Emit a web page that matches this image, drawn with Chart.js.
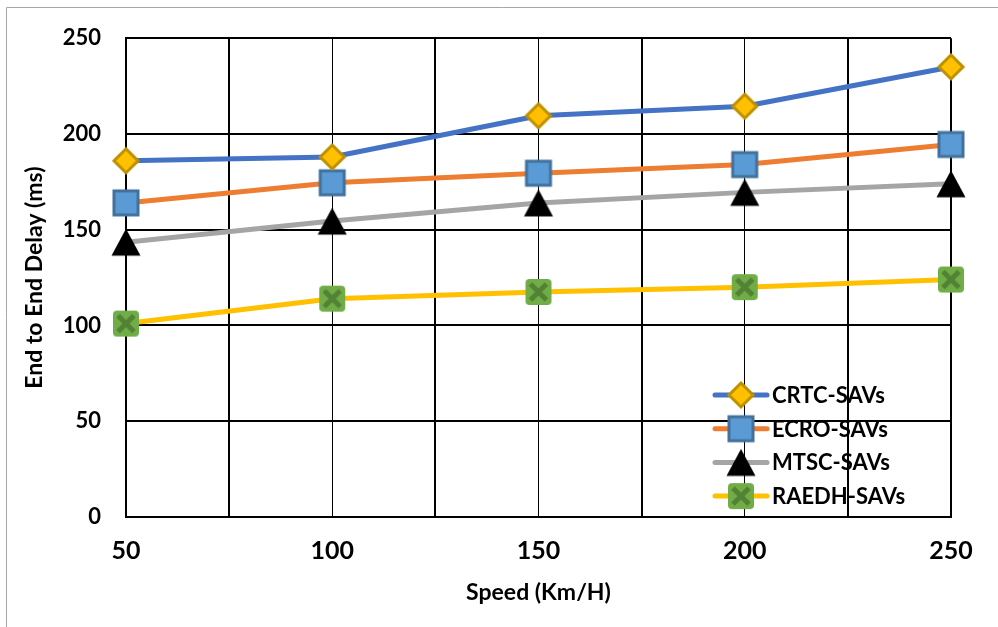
<!DOCTYPE html>
<html>
<head>
<meta charset="utf-8">
<script src="https://cdn.jsdelivr.net/npm/chart.js@4"></script>
<style>
  html, body { margin: 0; padding: 0; background: #fff; }
  #wrap { width: 998px; height: 627px; position: relative; }
</style>
</head>
<body>
<div id="wrap"><canvas id="c" width="998" height="627"></canvas></div>
<script>
// Speed (Km/H) on the x axis
const speeds = [50, 100, 150, 200, 250];
// End to end delay (ms) per scheme
const crtc  = [186, 188, 209.5, 214.5, 235];
const ecro  = [164, 174.5, 179.5, 184, 194.5];
const mtsc  = [143.5, 154.5, 164, 169.5, 174];
const raedh = [101, 114, 117.5, 120, 124];
const seriesNames = ['CRTC-SAVs', 'ECRO-SAVs', 'MTSC-SAVs', 'RAEDH-SAVs'];
const xTickStep = 25;
const yTickStep = 50;

const FONT = 'Lato, "Open Sans", sans-serif';

// Marker images
function markerCanvas(draw) {
  const c = document.createElement('canvas');
  c.width = 32; c.height = 32;
  const g = c.getContext('2d');
  draw(g);
  return c;
}
const diamond = markerCanvas(g => {
  g.beginPath();
  g.moveTo(16, 4); g.lineTo(28, 16); g.lineTo(16, 28); g.lineTo(4, 16); g.closePath();
  g.fillStyle = '#FFC000'; g.fill();
  g.lineWidth = 3; g.strokeStyle = '#BF9000'; g.lineJoin = 'miter'; g.stroke();
});
const square = markerCanvas(g => {
  g.fillStyle = '#5B9BD5'; g.fillRect(4, 4, 24, 24);
  g.lineWidth = 3; g.strokeStyle = '#41719C'; g.strokeRect(4, 4, 24, 24);
});
const triangle = markerCanvas(g => {
  g.beginPath();
  g.moveTo(16, 2.5); g.lineTo(30.5, 29.5); g.lineTo(1.5, 29.5); g.closePath();
  g.fillStyle = '#000'; g.fill();
});
const xbox = markerCanvas(g => {
  g.beginPath();
  if (g.roundRect) g.roundRect(3, 3, 26, 26, 4); else g.rect(3, 3, 26, 26);
  g.fillStyle = '#70AD47'; g.fill();
  g.strokeStyle = '#548235'; g.lineWidth = 5; g.lineCap = 'butt';
  g.beginPath();
  g.moveTo(8, 8); g.lineTo(24, 24);
  g.moveTo(24, 8); g.lineTo(8, 24);
  g.stroke();
});

const seriesValues = [crtc, ecro, mtsc, raedh];
const lineColors = ['#4472C4', '#ED7D31', '#A5A5A5', '#FFC000'];
const markers = [diamond, square, triangle, xbox];

const datasets = seriesValues.map((vals, i) => ({
  label: seriesNames[i],
  data: speeds.map((s, k) => ({ x: s, y: vals[k] })),
  borderColor: lineColors[i],
  backgroundColor: lineColors[i],
  borderWidth: 5,
  borderJoinStyle: 'round',
  tension: 0,
  pointStyle: markers[i],
  pointRadius: 13,
  pointHoverRadius: 13,
  clip: false
}));

// Outer frame (top and left edges)
const framePlugin = {
  id: 'frame',
  beforeDraw(chart) {
    const { ctx, width, height } = chart;
    ctx.save();
    ctx.fillStyle = '#fff';
    ctx.fillRect(0, 0, width, height);
    ctx.strokeStyle = '#a6a6a6';
    ctx.lineWidth = 1;
    ctx.beginPath();
    ctx.moveTo(6.5, height); ctx.lineTo(6.5, 7.5); ctx.lineTo(width, 7.5);
    ctx.stroke();
    ctx.restore();
  }
};

// Legend drawn inside the plot, lower right
const insideLegend = {
  id: 'insideLegend',
  afterDraw(chart) {
    const { ctx, chartArea } = chart;
    const x0 = chartArea.right - 238;
    const y0 = chartArea.bottom - 122;
    chart.data.datasets.forEach((ds, i) => {
      const y = y0 + i * 33.7;
      ctx.save();
      ctx.strokeStyle = ds.borderColor;
      ctx.lineWidth = 5;
      ctx.lineCap = 'round';
      ctx.beginPath();
      ctx.moveTo(x0 + 2, y); ctx.lineTo(x0 + 54, y);
      ctx.stroke();
      const m = ds.pointStyle;
      ctx.drawImage(m, x0 + 28 - m.width / 2, y - m.height / 2);
      ctx.fillStyle = '#000';
      ctx.font = 'bold 22px ' + FONT;
      ctx.textBaseline = 'middle';
      ctx.textAlign = 'left';
      ctx.fillText(ds.label, x0 + 59, y + 1);
      ctx.restore();
    });
  }
};

new Chart(document.getElementById('c'), {
  type: 'line',
  data: { datasets },
  plugins: [framePlugin, insideLegend],
  options: {
    responsive: false,
    animation: false,
    devicePixelRatio: 1,
    layout: { padding: { left: 0, right: 47, top: 36, bottom: 0 } },
    plugins: { legend: { display: false }, tooltip: { enabled: false } },
    scales: {
      x: {
        type: 'linear',
        min: speeds[0],
        max: speeds[speeds.length - 1],
        afterFit: s => { s.height = 110; },
        ticks: {
          stepSize: xTickStep,
          autoSkip: false,
          maxRotation: 0,
          callback: v => (v % 50 === 0 ? String(v) : ''),
          font: { family: FONT, size: 25, weight: 'bold' },
          color: '#000',
          padding: 19
        },
        grid: {
          color: '#000',
          drawTicks: false,
          lineWidth: c => {
            const v = c.tick ? c.tick.value : 0;
            if (v === 50 || v === 250) return 2;
            return v % 50 === 0 ? 1 : 2;
          }
        },
        border: { display: true, color: '#000', width: 2 },
        title: {
          display: true,
          text: 'Speed (Km/H)',
          color: '#000',
          font: { family: FONT, size: 23, weight: 'bold' },
          padding: { top: 0, bottom: 21 }
        }
      },
      y: {
        min: 0,
        max: 250,
        afterFit: s => { s.width = 126; },
        ticks: {
          stepSize: yTickStep,
          font: { family: FONT, size: 22, weight: 'bold' },
          color: '#000',
          padding: 25
        },
        grid: { color: '#000', lineWidth: 2, drawTicks: false },
        border: { display: true, color: '#000', width: 2 },
        title: {
          display: true,
          text: 'End to End Delay (ms)',
          color: '#000',
          font: { family: FONT, size: 23, weight: 'bold' },
          padding: { top: 21, bottom: 0 }
        }
      }
    }
  }
});
</script>
</body>
</html>
